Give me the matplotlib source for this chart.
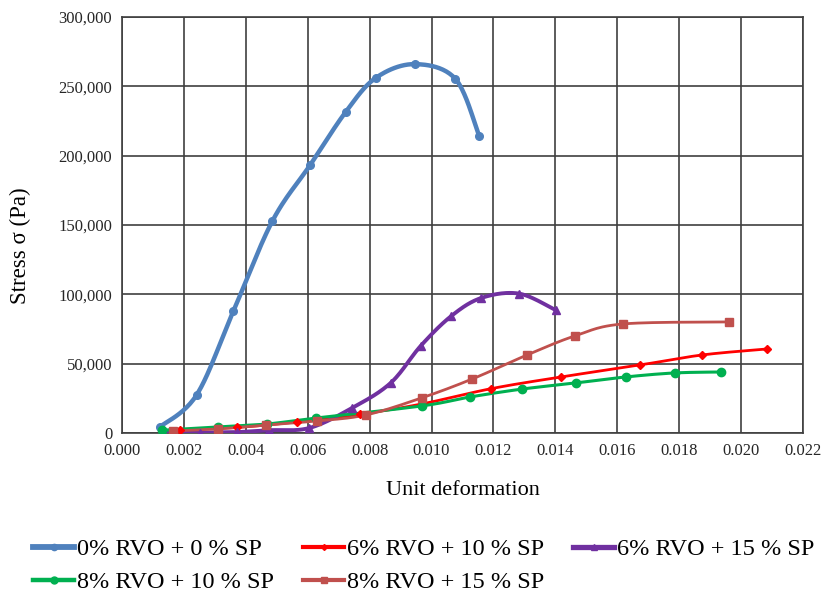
import numpy as np
import matplotlib
matplotlib.use("Agg")
import matplotlib.pyplot as plt
from matplotlib.lines import Line2D
from matplotlib.ticker import FuncFormatter, MultipleLocator

# ---------------------------------------------
# data
# ---------------------------------------------

labels = [
    "0% RVO + 0 % SP",
    "6% RVO + 10 % SP",
    "6% RVO + 15 % SP",
    "8% RVO + 10 % SP",
    "8% RVO + 15 % SP",
]

x_rvo0_sp0 = [0.00122, 0.00241, 0.00360, 0.00486, 0.00608, 0.00723, 0.00820, 0.00945, 0.01077, 0.01154]
y_rvo0_sp0 = [4300, 27400, 88000, 152900, 193300, 231600, 256100, 266000, 255400, 214000]

x_rvo6_sp10 = [0.00186, 0.00370, 0.00566, 0.00770, 0.00970, 0.01193, 0.01418, 0.01672, 0.01875, 0.02084]
y_rvo6_sp10 = [2500, 4000, 8000, 13500, 21000, 32000, 40400, 49000, 56300, 60600]

x_rvo6_sp15 = [0.00130, 0.00251, 0.00373, 0.00476, 0.00605, 0.00743, 0.00868, 0.00965, 0.01064, 0.01161, 0.01283, 0.01402]
y_rvo6_sp15 = [0, 300, 700, 2000, 3600, 18000, 36100, 62800, 84400, 97400, 100500, 88500]

x_rvo8_sp10 = [0.00129, 0.00309, 0.00469, 0.00627, 0.00968, 0.01125, 0.01293, 0.01466, 0.01627, 0.01785, 0.01936]
y_rvo8_sp10 = [2000, 4300, 6500, 10800, 19500, 26000, 31700, 36100, 40400, 43300, 44000]

x_rvo8_sp15 = [0.00164, 0.00309, 0.00466, 0.00630, 0.00788, 0.00968, 0.01132, 0.01309, 0.01463, 0.01617, 0.01961]
y_rvo8_sp15 = [1400, 2900, 5800, 8700, 13000, 25300, 39000, 56300, 70000, 78600, 80100]

series = [
    (x_rvo0_sp0, y_rvo0_sp0, "#4F81BD", "o", 5.5, 3.2),
    (x_rvo6_sp10, y_rvo6_sp10, "#FF0000", "D", 4.0, 2.0),
    (x_rvo6_sp15, y_rvo6_sp15, "#7030A0", "^", 5.5, 2.8),
    (x_rvo8_sp10, y_rvo8_sp10, "#00B050", "o", 6.0, 2.2),
    (x_rvo8_sp15, y_rvo8_sp15, "#C0504D", "s", 6.0, 2.0),
]


# Excel style smoothed line (bezier through the points)
def smooth(xs, ys, n=25):
    p = np.column_stack([xs, ys]).astype(float)
    p = np.vstack([p[0], p, p[-1]])
    t = np.linspace(0, 1, n)[:, None]
    parts = []
    for i in range(1, len(p) - 2):
        p0, p1, p2, p3 = p[i - 1], p[i], p[i + 1], p[i + 2]
        c1 = p1 + (p2 - p0) / 6
        c2 = p2 - (p3 - p1) / 6
        seg = (1 - t) ** 3 * p1 + 3 * (1 - t) ** 2 * t * c1 + 3 * (1 - t) * t ** 2 * c2 + t ** 3 * p2
        parts.append(seg)
    s = np.vstack(parts)
    return s[:, 0], s[:, 1]


plt.rcParams["font.family"] = ["Liberation Serif", "DejaVu Serif"]

fig = plt.figure(figsize=(8.27, 5.96), dpi=100)
ax = fig.add_axes([0.1475, 0.2735, 0.8235, 0.698])

handles = []
for (xs, ys, color, marker, ms, lw), lab in zip(series, labels):
    sx, sy = smooth(xs, ys)
    ax.plot(sx, sy, color=color, lw=lw, solid_capstyle="round", zorder=3)
    ax.plot(xs, ys, linestyle="none", marker=marker, color=color, ms=ms, zorder=4)
    handles.append(Line2D([], [], color=color, lw=lw + 1, marker=marker, ms=ms - 1))

ax.set_xlim(0, 0.022)
ax.set_ylim(0, 300000)
ax.xaxis.set_major_locator(MultipleLocator(0.002))
ax.yaxis.set_major_locator(MultipleLocator(50000))
ax.xaxis.set_major_formatter(FuncFormatter(lambda v, p: f"{v:.3f}"))
ax.yaxis.set_major_formatter(FuncFormatter(lambda v, p: f"{v:,.0f}"))

ax.grid(True, color="#3f3f3f", lw=1.2)
ax.set_axisbelow(True)
for sp in ax.spines.values():
    sp.set_color("#3f3f3f")
    sp.set_linewidth(1.2)
ax.tick_params(length=0, labelsize=12, colors="#262626", pad=7)

ax.set_xlabel("Unit deformation", fontsize=16, labelpad=16)
ax.set_ylabel("Stress σ (Pa)", fontsize=16.5)
ax.yaxis.set_label_coords(-0.134, 0.45)

# legend is filled column by column, reorder so rows read like the original
order = [0, 3, 1, 4, 2]
fig.legend([handles[i] for i in order], [labels[i] for i in order],
           loc="upper left", bbox_to_anchor=(0.04, 0.097),
           ncol=3, frameon=False, fontsize=17.5, handlelength=1.7,
           handletextpad=0.1, columnspacing=1.2, labelspacing=0.45,
           borderaxespad=0, borderpad=0)

fig.savefig("out.png", dpi=100)
